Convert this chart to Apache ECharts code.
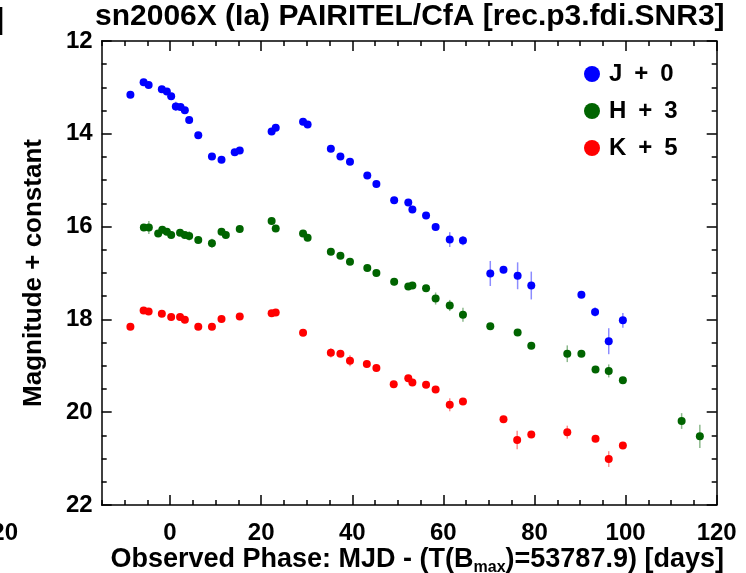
<!DOCTYPE html>
<html><head><meta charset="utf-8">
<script src="https://cdn.jsdelivr.net/npm/echarts@6/dist/echarts.min.js"></script>
<style>html,body{margin:0;padding:0;background:#fff}#c{width:746px;height:573px}</style>
</head><body><div id="c"></div><script>
// ---- data (plotted values: magnitude + offset) ----
const phaseJ = [-8.7,-5.8,-4.7,-1.8,-0.7,0.25,1.27,2.3,3.25,4.2,6.2,9.2,11.3,14.2,15.3,22.3,23.2,29.2,30.2,35.3,37.4,39.5,43.3,45.3,49.2,52.3,53.2,56.2,58.3,61.4,64.3,70.3,73.2,76.3,79.3,90.3,93.3,96.3,99.4];
const magJ   = [13.16,12.89,12.95,13.04,13.09,13.19,13.41,13.42,13.49,13.70,14.03,14.49,14.56,14.40,14.36,13.95,13.87,13.74,13.80,14.32,14.49,14.60,14.90,15.08,15.43,15.48,15.63,15.76,16.01,16.28,16.30,17.01,16.93,17.06,17.27,17.47,17.84,18.47,18.02];
const errJ   = [0.03,0.03,0.03,0.03,0.03,0.03,0.10,0.04,0.04,0.04,0.04,0.04,0.04,0.04,0.04,0.05,0.05,0.04,0.04,0.04,0.04,0.04,0.05,0.05,0.05,0.05,0.05,0.06,0.06,0.16,0.10,0.27,0.05,0.29,0.30,0.06,0.10,0.28,0.16];

const phaseH = [-5.75,-4.65,-2.6,-1.7,-0.7,0.25,2.2,3.25,4.2,6.2,9.2,11.3,12.25,15.3,22.3,23.2,29.2,30.2,35.3,37.4,39.5,43.3,45.3,49.2,52.3,53.2,56.2,58.3,61.4,64.3,70.3,76.3,79.3,87.2,90.3,93.4,96.3,99.4,112.3,116.3];
const magH   = [16.02,16.02,16.15,16.07,16.11,16.18,16.13,16.18,16.20,16.29,16.36,16.11,16.18,16.05,15.88,16.04,16.15,16.24,16.54,16.63,16.76,16.89,17.00,17.19,17.29,17.27,17.33,17.55,17.70,17.90,18.15,18.28,18.57,18.74,18.74,19.08,19.11,19.31,20.19,20.52];
const errH   = [0.05,0.14,0.05,0.05,0.05,0.05,0.05,0.05,0.10,0.05,0.10,0.05,0.05,0.05,0.05,0.05,0.05,0.05,0.05,0.05,0.05,0.05,0.05,0.08,0.05,0.05,0.05,0.13,0.12,0.15,0.06,0.06,0.06,0.18,0.06,0.06,0.14,0.06,0.17,0.25];

const phaseK = [-8.7,-5.8,-4.7,-1.8,0.25,2.2,3.25,6.2,9.2,11.3,15.3,22.3,23.2,29.2,35.3,37.4,39.5,43.2,45.3,49.1,52.3,53.2,56.2,58.3,61.4,64.3,73.2,76.2,79.3,87.2,93.4,96.3,99.4];
const magK   = [18.16,17.81,17.83,17.88,17.95,17.95,18.01,18.16,18.16,17.99,17.94,17.87,17.85,18.29,18.72,18.74,18.89,18.96,19.05,19.40,19.27,19.36,19.41,19.51,19.84,19.77,20.15,20.60,20.48,20.43,20.57,21.01,20.72];
const errK   = [0.05,0.05,0.05,0.05,0.05,0.05,0.05,0.05,0.05,0.05,0.05,0.05,0.05,0.05,0.10,0.05,0.12,0.05,0.05,0.05,0.05,0.05,0.05,0.05,0.14,0.05,0.05,0.20,0.05,0.14,0.05,0.17,0.05];

const bandNames = ['J + 0','H + 3','K + 5'];
const xMajorTicks = [0,20,40,60,80,100,120];
const titleText = 'sn2006X (Ia) PAIRITEL/CfA [rec.p3.fdi.SNR3]';

// ---- chart ----
const FONT = 'Liberation Sans';
const colors = ['#0000ff','#006400','#ff0000'];
const zip = (a,b,c) => a.map((v,i)=> c ? [v,b[i],c[i]] : [v,b[i]]);
const lineStyle = {color:'#000', width:1.5};

function errRender(color){
  return function(params, api){
    const x = api.value(0), y = api.value(1), e = api.value(2);
    const p1 = api.coord([x, y - e]), p2 = api.coord([x, y + e]);
    return {type:'line', shape:{x1:p1[0],y1:p1[1],x2:p2[0],y2:p2[1]},
      style:{stroke:color, lineWidth:1.5, opacity:0.45}};
  };
}

const sets = [[phaseJ,magJ,errJ],[phaseH,magH,errH],[phaseK,magK,errK]];
const series = [];
sets.forEach((s,i)=>{
  series.push({type:'custom', name:'err'+i, xAxisIndex:0, yAxisIndex:0, renderItem:errRender(colors[i]),
    data: zip(s[0],s[1],s[2]), z:2, silent:true});
});
sets.forEach((s,i)=>{
  series.push({type:'scatter', name:bandNames[i], xAxisIndex:0, yAxisIndex:0, symbol:'circle', symbolSize:8,
    itemStyle:{color:colors[i], opacity:1}, data: zip(s[0],s[1]), z:3});
});

const xBase = {type:'value', min:-15, max:120, splitLine:{show:false}};
const noZero = {onZero:false};
const chart = echarts.init(document.getElementById('c'), null, {renderer:'canvas'});
chart.setOption({
  animation:false,
  backgroundColor:'#fff',
  title:{text:titleText, left:95, top:2, padding:0, textStyle:{fontFamily:FONT, fontWeight:'bold', fontSize:30, color:'#000'}},
  legend:{data:bandNames, orient:'vertical', left:579, top:57, icon:'circle', itemWidth:16, itemHeight:16, itemGap:13,
    formatter: n => n.replace(/ /g,'\u2002'),
    textStyle:{fontFamily:FONT, fontWeight:'bold', fontSize:24, lineHeight:24, color:'#000', padding:[0,0,0,4]}},
  grid:{left:101.7, right:29.3, top:41, bottom:68, outerBoundsMode:'none', containLabel:false},
  xAxis:[
    Object.assign({}, xBase, {position:'bottom', interval:5,
      axisLine:Object.assign({show:true, lineStyle}, noZero), axisTick:{show:true, inside:true, length:5, lineStyle},
      axisLabel:{show:true, customValues:xMajorTicks, margin:16, fontFamily:FONT, fontWeight:'bold', fontSize:24, color:'#000'},
      name:'Observed Phase: MJD - (T(B{sub|max})=53787.9) [days]', nameLocation:'middle', nameGap:39, nameMoveOverlap:false,
      nameTextStyle:{fontFamily:FONT, fontWeight:'bold', fontSize:27, color:'#000', padding:[0,0,0,16],
        rich:{sub:{fontFamily:FONT, fontWeight:'bold', fontSize:16, color:'#000', padding:[16,0,0,0]}}}}),
    Object.assign({}, xBase, {position:'bottom', axisLine:{show:false, onZero:false},
      axisTick:{show:true, inside:true, length:10, customValues:xMajorTicks, lineStyle}, axisLabel:{show:false}}),
    Object.assign({}, xBase, {position:'top', interval:5, axisLine:Object.assign({show:true, lineStyle}, noZero),
      axisTick:{show:true, inside:true, length:5, lineStyle}, axisLabel:{show:false}}),
    Object.assign({}, xBase, {position:'top', axisLine:{show:false, onZero:false},
      axisTick:{show:true, inside:true, length:10, customValues:xMajorTicks, lineStyle}, axisLabel:{show:false}})
  ],
  yAxis:[
    {type:'value', position:'left', min:12, max:22, interval:2, inverse:true, splitLine:{show:false},
      axisLine:Object.assign({show:true, lineStyle}, noZero), axisTick:{show:true, inside:true, length:10, lineStyle},
      minorTick:{show:true, splitNumber:4, length:5, lineStyle}, minorSplitLine:{show:false},
      axisLabel:{margin:9, fontFamily:FONT, fontWeight:'bold', fontSize:24, color:'#000'},
      name:'Magnitude + constant', nameLocation:'middle', nameGap:55, nameRotate:90,
      nameTextStyle:{fontFamily:FONT, fontWeight:'bold', fontSize:26, color:'#000'}},
    {type:'value', position:'right', min:12, max:22, interval:2, inverse:true, splitLine:{show:false},
      axisLine:Object.assign({show:true, lineStyle}, noZero), axisTick:{show:true, inside:true, length:10, lineStyle},
      minorTick:{show:true, splitNumber:4, length:5, lineStyle}, minorSplitLine:{show:false},
      axisLabel:{show:false}}
  ],
  graphic:[
    {type:'text', left:-22, top:521, style:{text:'120', fontFamily:FONT, fontWeight:'bold', fontSize:24, fill:'#000'}},
    {type:'text', left:-6, top:6, style:{text:']', fontFamily:FONT, fontWeight:'bold', fontSize:30, fill:'#000'}}
  ],
  series
});
</script></body></html>
